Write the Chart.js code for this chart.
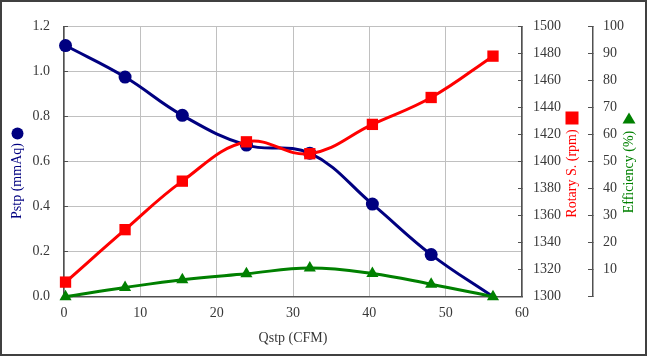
<!DOCTYPE html>
<html><head><meta charset="utf-8">
<script src="https://cdn.jsdelivr.net/npm/chart.js@4.4.1/dist/chart.umd.min.js"></script>
<style>html,body{margin:0;padding:0;background:#fff}#wrap{width:647px;height:356px;position:relative}</style>
</head><body><div id="wrap"><canvas id="c" width="647" height="356"></canvas></div>
<script>
// ---- data ----
const qstp = [0.2, 8.0, 15.5, 23.9, 32.2, 40.4, 48.1, 56.2];      // Qstp (CFM)
const pstp = [1.115, 0.975, 0.805, 0.673, 0.637, 0.411, 0.187, 0]; // Pstp (mmAq)
const rpm  = [1310.8, 1349.6, 1385.5, 1414.6, 1405.8, 1427.5, 1447.4, 1478]; // Rotary S. (rpm)
const eff  = [0, 3.4, 6.3, 8.5, 10.6, 8.6, 4.6, 0];               // Efficiency (%)

const xTicks    = [0, 10, 20, 30, 40, 50, 60];
const pstpTicks = [0, 0.2, 0.4, 0.6, 0.8, 1.0, 1.2];
const rpmTicks  = [1300, 1320, 1340, 1360, 1380, 1400, 1420, 1440, 1460, 1480, 1500];
const effTicks  = [0, 10, 20, 30, 40, 50, 60, 70, 80, 90, 100];

const FONT = {family: '"Liberation Serif", "Times New Roman", serif', size: 14};
const TXT = '#383838', AXIS = '#505050', GRID = '#c0c0c0';
const NAVY = '#000080', RED = '#ff0000', GREEN = '#008000';

const pts = ys => qstp.map((x, i) => ({x, y: ys[i]}));
const setTicks = arr => s => { s.ticks = arr.map(v => ({value: v})); };

const deco = {
  id: 'deco',
  beforeDraw(chart) {
    const c = chart.ctx; c.save();
    c.fillStyle = '#fff'; c.fillRect(0, 0, chart.width, chart.height);
    c.restore();
  },
  afterDraw(chart) {
    const c = chart.ctx; c.save();
    c.font = '14px "Liberation Serif", "Times New Roman", serif';
    c.textAlign = 'center'; c.textBaseline = 'middle';
    const vtext = (t, x, y, col) => {
      c.save(); c.translate(x, y); c.rotate(-Math.PI / 2);
      c.fillStyle = col; c.fillText(t, 0, 0); c.restore();
    };
    vtext('Pstp (mmAq)', 17.5, 181, NAVY);
    vtext('Rotary S. (rpm)', 572, 173.5, RED);
    vtext('Efficiency (%)', 629, 172, GREEN);
    // legend-style markers
    c.fillStyle = NAVY; c.beginPath(); c.arc(17.5, 133.5, 6, 0, Math.PI * 2); c.fill();
    c.fillStyle = RED; c.fillRect(565.5, 111.5, 13, 13);
    c.fillStyle = GREEN; c.beginPath();
    c.moveTo(629, 112.5); c.lineTo(635.5, 123.5); c.lineTo(622.5, 123.5); c.closePath(); c.fill();
    // outer frame
    c.strokeStyle = '#404040'; c.lineWidth = 2;
    c.strokeRect(1, 1, chart.width - 2, chart.height - 2);
    c.restore();
  }
};

new Chart(document.getElementById('c'), {
  type: 'line',
  data: {
    datasets: [
      {label: 'Efficiency (%)', data: pts(eff), yAxisID: 'yE', order: 0,
       borderColor: GREEN, backgroundColor: GREEN, borderWidth: 3, tension: 0.4,
       pointStyle: 'triangle', pointRadius: 7, pointBorderWidth: 0, clip: false},
      {label: 'Rotary S. (rpm)', data: pts(rpm), yAxisID: 'yR', order: 1,
       borderColor: RED, backgroundColor: RED, borderWidth: 3, tension: 0.4,
       pointStyle: 'rect', pointRadius: 8, pointBorderWidth: 0, clip: false},
      {label: 'Pstp (mmAq)', data: pts(pstp), yAxisID: 'yP', order: 2,
       borderColor: NAVY, backgroundColor: NAVY, borderWidth: 3, tension: 0.4,
       pointStyle: 'circle', pointRadius: pstp.map((v, i) => i === pstp.length - 1 ? 0 : 6.5),
       pointBorderWidth: 0, clip: false}
    ]
  },
  options: {
    responsive: false, animation: false, devicePixelRatio: 1,
    layout: {padding: {top: 18.5, left: 0, right: 0, bottom: 0}},
    plugins: {legend: {display: false}, tooltip: {enabled: false}},
    scales: {
      x: {type: 'linear', position: 'bottom', min: 0, max: 60,
          afterBuildTicks: setTicks(xTicks),
          grid: {color: GRID, drawTicks: false},
          border: {color: AXIS, width: 1.5},
          ticks: {font: FONT, color: TXT, padding: 8, maxRotation: 0, callback: v => String(v)},
          title: {display: true, text: 'Qstp (CFM)', font: FONT, color: TXT, padding: {top: 0, bottom: 9}},
          afterFit: s => { s.height = 59.3; }},
      yP: {type: 'linear', position: 'left', min: 0, max: 1.2,
           afterBuildTicks: setTicks(pstpTicks),
           grid: {color: GRID, tickColor: AXIS, tickLength: -4, drawTicks: true},
           border: {color: AXIS, width: 1.5},
           ticks: {font: FONT, color: TXT, padding: 18, callback: v => v.toFixed(1)},
           afterFit: s => { s.width = 64; }},
      yR: {type: 'linear', position: 'right', min: 1300, max: 1500,
           afterBuildTicks: setTicks(rpmTicks),
           grid: {drawOnChartArea: false, tickColor: AXIS, tickLength: -4, drawTicks: true},
           border: {color: AXIS, width: 1.5},
           ticks: {font: FONT, color: TXT, padding: 15, callback: v => String(v)},
           afterFit: s => { s.width = 71; }},
      yE: {type: 'linear', position: 'right', min: 0, max: 100,
           afterBuildTicks: setTicks(effTicks),
           grid: {drawOnChartArea: false, tickColor: AXIS, tickLength: -5, drawTicks: true},
           border: {color: AXIS, width: 1.5},
           ticks: {font: FONT, color: TXT, padding: 15, callback: v => v === 0 ? '' : String(v)},
           afterFit: s => { s.width = 54; }}
    }
  },
  plugins: [deco]
});
</script>
</body></html>
